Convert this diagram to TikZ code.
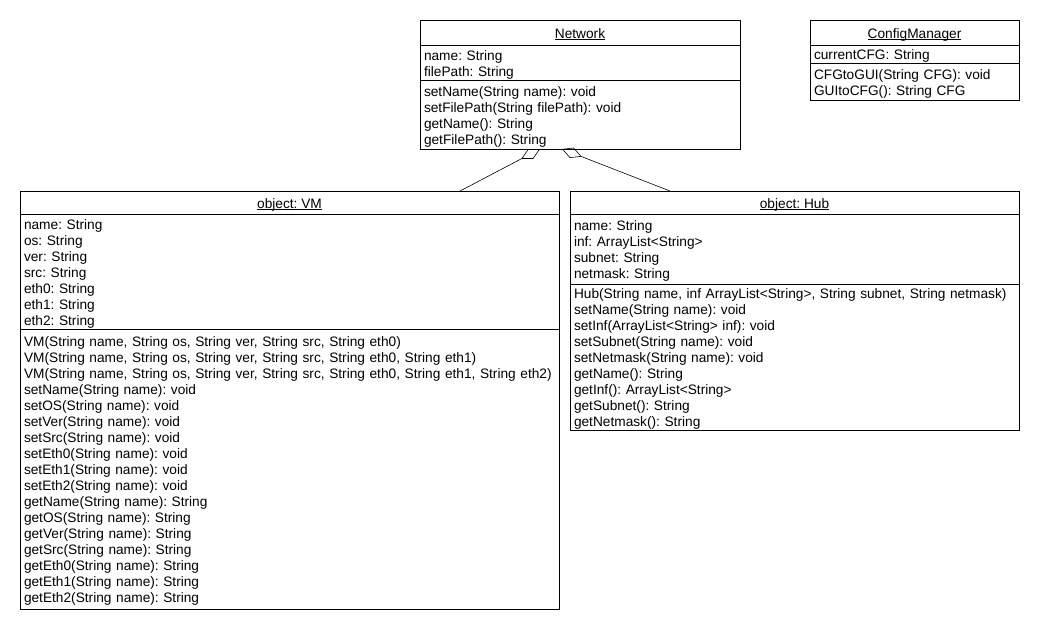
\documentclass[tikz,border=0pt]{standalone}
\usepackage{fontspec}
\setmainfont{Liberation Sans}
\usetikzlibrary{arrows.meta, positioning, calc}

\frenchspacing
\newcommand{\umlfont}{\fontsize{13.7}{16}\selectfont}
\newcommand{\classname}[1]{\setbox0\hbox{#1}\rlap{\rule[-1.6pt]{\wd0}{0.6pt}}\box0}

\begin{document}
\begin{tikzpicture}[
    x=1pt, y=-1pt,
    classtitle/.style 2 args={
        rectangle,
        draw=black,
        line width=0.6pt,
        minimum width=#1,
        minimum height=#2,
        text height=12pt,
        text depth=1pt,
        inner sep=0pt,
        outer sep=0pt,
        font=\umlfont
    },
    compartment/.style 2 args={
        rectangle,
        draw=black,
        line width=0.6pt,
        text width=#1,
        minimum height=#2,
        inner xsep=4pt,
        inner ysep=0pt,
        outer sep=0pt,
        align=left,
        font=\umlfont,
        execute at begin node={\rule{0pt}{14.5pt}}
    },
    aggregation/.style={
        -{Diamond[open, length=21pt, width=11pt]},
        line width=0.6pt
    }
]

\useasboundingbox (0,0) rectangle (1040,630);

% Network
\node[classtitle={320}{25}] (networkTitle) at (580,32.5) {\classname{Network}};
\node[compartment={312}{35}, below=0pt of networkTitle] (networkAttrs)
    {name: String\\filePath: String};
\node[compartment={312}{69}, below=0pt of networkAttrs] (networkOps)
    {setName(String name): void\\setFilePath(String filePath): void\\getName(): String\\getFilePath(): String};

% ConfigManager
\node[classtitle={209}{25}] (configTitle) at (914.5,32.5) {\classname{ConfigManager}};
\node[compartment={201}{18}, below=0pt of configTitle] (configAttrs)
    {currentCFG: String};
\node[compartment={201}{37}, below=0pt of configAttrs] (configOps)
    {CFGtoGUI(String CFG): void\\GUItoCFG(): String CFG};

% object: VM
\node[classtitle={539}{23}] (vmTitle) at (289.5,202.5) {\classname{object: VM}};
\node[compartment={531}{115}, below=0pt of vmTitle] (vmAttrs)
    {name: String\\os: String\\ver: String\\src: String\\eth0: String\\eth1: String\\eth2: String};
\node[compartment={531}{280}, below=0pt of vmAttrs] (vmOps)
    {VM(String name, String os, String ver, String src, String eth0)\\
     VM(String name, String os, String ver, String src, String eth0, String eth1)\\
     VM(String name, String os, String ver, String src, String eth0, String eth1, String eth2)\\
     setName(String name): void\\setOS(String name): void\\setVer(String name): void\\
     setSrc(String name): void\\setEth0(String name): void\\setEth1(String name): void\\
     setEth2(String name): void\\getName(String name): String\\getOS(String name): String\\
     getVer(String name): String\\getSrc(String name): String\\getEth0(String name): String\\
     getEth1(String name): String\\getEth2(String name): String};

% object: Hub
\node[classtitle={449}{23}] (hubTitle) at (794.5,202.5) {\classname{object: Hub}};
\node[compartment={441}{70}, below=0pt of hubTitle] (hubAttrs)
    {name: String\\inf: ArrayList<String>\\subnet: String\\netmask: String};
\node[compartment={441}{146}, below=0pt of hubAttrs] (hubOps)
    {Hub(String name, inf ArrayList<String>, String subnet, String netmask)\\
     setName(String name): void\\setInf(ArrayList<String> inf): void\\
     setSubnet(String name): void\\setNetmask(String name): void\\
     getName(): String\\getInf(): ArrayList<String>\\getSubnet(): String\\getNetmask(): String};

% Aggregations
\draw[aggregation] ($(vmTitle.north)+(170.5,0)$) -- ($(networkOps.south)+(-40,0)$);
\draw[aggregation] ($(hubTitle.north)+(-124.5,0)$) -- ($(networkOps.south)+(-18,0)$);

\end{tikzpicture}
\end{document}
